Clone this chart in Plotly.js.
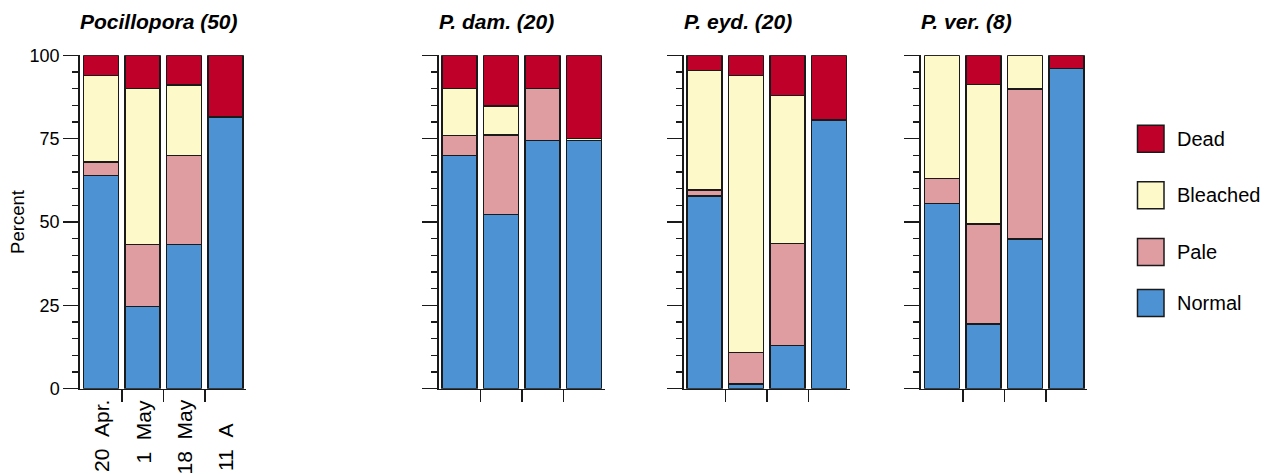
<!DOCTYPE html>
<html>
<head>
<meta charset="utf-8">
<script src="https://cdn.plot.ly/plotly-3.0.1.min.js"></script>
<style>
  html, body { margin: 0; padding: 0; background: #ffffff; }
  #chart { width: 1275px; height: 474px; }
</style>
</head>
<body>
<div id="chart"></div>
<script>
// ---- data ----
const dates = ["20 Apr.", "1 May", "18 May", "11 A"];
const panelTitles = ["Pocillopora (50)", "P. dam. (20)", "P. eyd. (20)", "P. ver. (8)"];
const statuses = ["Normal", "Pale", "Bleached", "Dead"];
const statusColors = ["#4d93d3", "#df9da2", "#fdf9c9", "#bf0028"];

const pocNormal   = [64, 24.6, 43.3, 81.3];
const pocPale     = [4, 18.7, 26.6, 0];
const pocBleached = [26, 46.8, 21.2, 0.4];
const pocDead     = [6, 9.9, 8.9, 18.3];

const damNormal   = [70, 52.3, 74.5, 74.5];
const damPale     = [6, 23.8, 15.5, 0];
const damBleached = [14, 8.7, 0, 0.5];
const damDead     = [10, 15.2, 10, 25];

const eydNormal   = [57.8, 1.4, 12.9, 80.4];
const eydPale     = [1.8, 9.4, 30.7, 0];
const eydBleached = [35.8, 83.1, 44.3, 0.4];
const eydDead     = [4.6, 6.1, 12.1, 19.2];

const verNormal   = [55.6, 19.4, 44.9, 96.1];
const verPale     = [7.4, 30, 45, 0];
const verBleached = [37, 41.8, 10.1, 0];
const verDead     = [0, 8.8, 0, 3.9];

const panelSeries = [
  [pocNormal, pocPale, pocBleached, pocDead],
  [damNormal, damPale, damBleached, damDead],
  [eydNormal, eydPale, eydBleached, eydDead],
  [verNormal, verPale, verBleached, verDead]
];

// ---- layout geometry (pixels in a 1275x474 paper) ----
const W = 1275, H = 474;
const px = v => v / W;
const py = v => 1 - v / H;
const panelLeft = [80.25, 438.75, 683.75, 921.25];
const panelWidth = 166;
const yTop = 55.3, yBottom = 388.7;
const FONT = '"Liberation Sans", Arial, Helvetica, sans-serif';
const INK = '#1a1a1a';

const xIdx = dates.map((d, i) => i);

const traces = [];
panelSeries.forEach((series, p) => {
  const sfx = p === 0 ? '' : String(p + 1);
  series.forEach((vals, s) => {
    traces.push({
      type: 'bar',
      x: xIdx,
      y: vals,
      name: statuses[s],
      xaxis: 'x' + sfx,
      yaxis: 'y' + sfx,
      marker: { color: statusColors[s], line: { color: INK, width: 1.5 } },
      showlegend: false,
      hoverinfo: 'skip'
    });
  });
});

const layout = {
  width: W, height: H,
  margin: { l: 0, r: 0, t: 0, b: 0, pad: 0 },
  paper_bgcolor: '#ffffff',
  plot_bgcolor: '#ffffff',
  barmode: 'stack',
  bargap: 0.16,
  font: { family: FONT, size: 18, color: '#000' },
  showlegend: false,
  annotations: [],
  shapes: []
};

panelSeries.forEach((series, p) => {
  const sfx = p === 0 ? '' : String(p + 1);
  layout['xaxis' + sfx] = {
    domain: [px(panelLeft[p]), px(panelLeft[p] + panelWidth)],
    anchor: 'y' + sfx,
    type: 'linear',
    range: [-0.5, 3.5],
    tickvals: [0.5, 1.5, 2.5],
    showticklabels: false,
    ticks: 'outside', ticklen: 12, tickwidth: 1.5, tickcolor: INK,
    showline: true, linecolor: INK, linewidth: 1.5,
    showgrid: false, zeroline: false, fixedrange: true
  };
  layout['yaxis' + sfx] = {
    domain: [py(yBottom), py(yTop)],
    anchor: 'x' + sfx,
    range: [0, 100],
    tickvals: [0, 25, 50, 75, 100],
    showticklabels: p === 0,
    tickfont: { family: FONT, size: 18, color: '#000' },
    ticks: 'outside', ticklen: 15, tickwidth: 1.5, tickcolor: INK,
    minor: { tickvals: [5,10,15,20,30,35,40,45,55,60,65,70,80,85,90,95], ticks: 'outside', ticklen: 6, tickwidth: 1.5, tickcolor: INK, showgrid: false },
    showline: true, linecolor: INK, linewidth: 2,
    showgrid: false, zeroline: false, fixedrange: true,
    title: p === 0 ? { text: 'Percent', font: { family: FONT, size: 18.5, color: '#000' }, standoff: 0 } : undefined
  };
  layout.annotations.push({
    xref: 'paper', yref: 'paper',
    x: px(panelLeft[p] - 2), y: py(21),
    xanchor: 'left', yanchor: 'middle',
    text: '<b><i>' + panelTitles[p] + '</i></b>',
    showarrow: false,
    font: { family: FONT, size: 21, color: '#000' }
  });
});

// rotated date labels under the first panel
dates.forEach((d, i) => {
  const pad = i === dates.length - 1 ? '&nbsp;&nbsp;&nbsp;&nbsp;' : '';
  layout.annotations.push({
    xref: 'x', yref: 'paper',
    x: i, y: py(398),
    xanchor: 'center', yanchor: 'top',
    text: d.replace(' ', '&nbsp;&nbsp;') + pad,
    textangle: -90,
    showarrow: false,
    font: { family: FONT, size: 21, color: '#000' }
  });
});

// legend drawn as boxes + labels (top to bottom: Dead, Bleached, Pale, Normal)
const legendCenters = [138.7, 195.3, 252, 303];
const legendOrder = statuses.map((s, i) => i).reverse();
legendOrder.forEach((s, k) => {
  const cy = legendCenters[k];
  layout.shapes.push({
    type: 'rect', xref: 'paper', yref: 'paper',
    x0: px(1137.5), x1: px(1164),
    y0: py(cy + 13.5), y1: py(cy - 13.5),
    fillcolor: statusColors[s],
    line: { color: INK, width: 1.5 }
  });
  layout.annotations.push({
    xref: 'paper', yref: 'paper',
    x: px(1175), y: py(cy),
    xanchor: 'left', yanchor: 'middle',
    text: statuses[s],
    showarrow: false,
    font: { family: FONT, size: 20, color: '#000' }
  });
});

Plotly.newPlot('chart', traces, layout, { staticPlot: true, displayModeBar: false });
</script>
</body>
</html>
